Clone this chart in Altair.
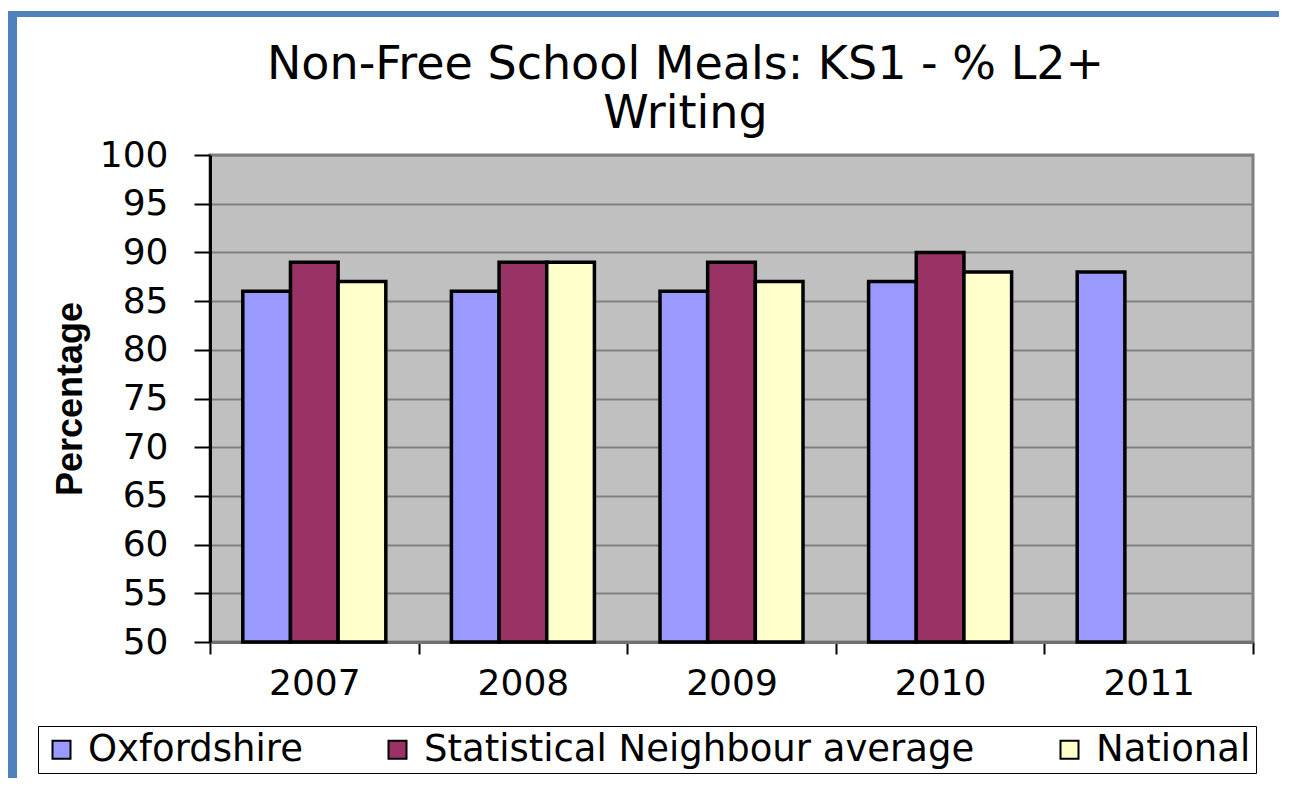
import altair as alt
import pandas as pd

years = ["2007", "2008", "2009", "2010", "2011"]
series = ["Oxfordshire", "Statistical Neighbour average", "National"]
oxfordshire = [86, 86, 86, 87, 88]
stat_neighbour = [89, 89, 89, 90, None]
national = [87, 89, 87, 88, None]
colors = ["#9999FF", "#993366", "#FFFFCC"]
y_ticks = list(range(50, 101, 5))
y_min, y_max = 50, 100
title_lines = ["Non-Free School Meals: KS1 - % L2+", "Writing"]

rows = []
for s, vals in zip(series, [oxfordshire, stat_neighbour, national]):
    for yr, v in zip(years, vals):
        if v is not None:
            rows.append({"Year": yr, "Series": s, "Value": v})
df = pd.DataFrame(rows)

W, H = 1043, 487
PL, PT, PR, PB = 202, 147, 26, 136

bars = alt.Chart(df).mark_bar(stroke="black", strokeWidth=3.5).encode(
    x=alt.X(
        "Year:N", sort=years,
        scale=alt.Scale(paddingInner=0, paddingOuter=0),
        axis=alt.Axis(
            title=None, labelAngle=0, tickBand="extent", grid=False,
            domainColor="#707070", domainWidth=3,
            tickColor="black", tickWidth=2, tickSize=12,
            labelFont="DejaVu Sans", labelFontSize=36, labelColor="black",
            labelPadding=12,
        ),
    ),
    xOffset=alt.XOffset("Series:N", sort=series,
                        scale=alt.Scale(domain=series, paddingInner=0, paddingOuter=0.688)),
    y=alt.Y(
        "Value:Q",
        scale=alt.Scale(domain=[y_min, y_max], nice=False, zero=False),
        axis=alt.Axis(
            values=y_ticks, title="Percentage",
            domainColor="black", domainWidth=3,
            tickColor="black", tickWidth=2, tickSize=16,
            labelFont="DejaVu Sans", labelFontSize=36, labelColor="black",
            labelPadding=26,
            grid=True, gridColor="#808080", gridWidth=2,
            titleFont="Liberation Sans", titleFontSize=36, titleFontWeight="bold",
            titleColor="black", titleAngle=270, titleX=-129, titleY=H / 2,
            titleBaseline="alphabetic", titleAlign="center",
        ),
    ),
    y2=alt.Y2(datum=y_min),
    color=alt.Color(
        "Series:N", sort=series,
        scale=alt.Scale(domain=series, range=colors),
        legend=alt.Legend(
            title=None, orient="none", legendX=-172, legendY=571,
            direction="horizontal",
            labelFont="DejaVu Sans", labelFontSize=37, labelColor="black",
            labelLimit=1000, labelOffset=8,
            symbolType="square", symbolSize=324,
            symbolStrokeColor="black", symbolStrokeWidth=2,
            columnPadding=76, padding=5,
            strokeColor="black", fillColor="white",
        ),
    ),
)

frame_left = alt.Chart(alt.Data(values=[{}])).mark_rect(color="#4F81BD").encode(
    x=alt.value(-PL), x2=alt.value(-PL + 9),
    y=alt.value(-PT + 3), y2=alt.value(H + PB),
)
frame_top = alt.Chart(alt.Data(values=[{}])).mark_rect(color="#4F81BD").encode(
    x=alt.value(-PL), x2=alt.value(W + PR),
    y=alt.value(-PT + 3), y2=alt.value(-PT + 9),
)

chart = alt.layer(frame_left, frame_top, bars).properties(
    width=W, height=H,
    padding={"left": PL, "top": PT, "right": PR, "bottom": PB},
    autosize=alt.AutoSizeParams(type="none"),
    background="white",
    title=alt.TitleParams(
        text=title_lines, font="DejaVu Sans", fontSize=46, fontWeight="normal",
        color="black", anchor="middle", frame="group", dx=-46, offset=-127,
        lineHeight=49,
    ),
).configure_view(stroke="#808080", strokeWidth=3, fill="#C0C0C0")

chart.save("out.html", embed_options={"renderer": "svg", "actions": False})
